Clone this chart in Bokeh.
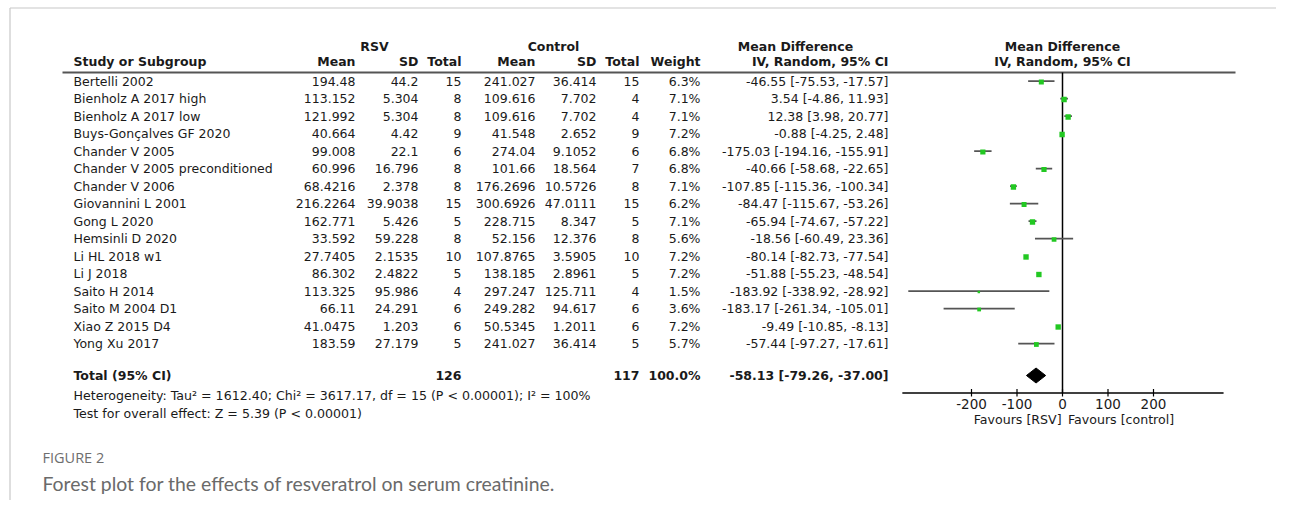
from bokeh.plotting import figure
from bokeh.models import Range1d, ColumnDataSource
from bokeh.core.properties import value
from bokeh.embed import file_html
from bokeh.resources import INLINE

# ---------------- data ----------------
studies = ["Bertelli 2002", "Bienholz A 2017 high", "Bienholz A 2017 low",
           "Buys-Gonçalves GF 2020", "Chander V 2005", "Chander V 2005 preconditioned",
           "Chander V 2006", "Giovannini L 2001", "Gong L 2020", "Hemsinli D 2020",
           "Li HL 2018 w1", "Li J 2018", "Saito H 2014", "Saito M 2004 D1",
           "Xiao Z 2015 D4", "Yong Xu 2017"]
rsv_mean = ["194.48", "113.152", "121.992", "40.664", "99.008", "60.996", "68.4216",
            "216.2264", "162.771", "33.592", "27.7405", "86.302", "113.325", "66.11",
            "41.0475", "183.59"]
rsv_sd = ["44.2", "5.304", "5.304", "4.42", "22.1", "16.796", "2.378", "39.9038",
          "5.426", "59.228", "2.1535", "2.4822", "95.986", "24.291", "1.203", "27.179"]
rsv_n = [15, 8, 8, 9, 6, 8, 8, 15, 5, 8, 10, 5, 4, 6, 6, 5]
ctl_mean = ["241.027", "109.616", "109.616", "41.548", "274.04", "101.66", "176.2696",
            "300.6926", "228.715", "52.156", "107.8765", "138.185", "297.247", "249.282",
            "50.5345", "241.027"]
ctl_sd = ["36.414", "7.702", "7.702", "2.652", "9.1052", "18.564", "10.5726", "47.0111",
          "8.347", "12.376", "3.5905", "2.8961", "125.711", "94.617", "1.2011", "36.414"]
ctl_n = [15, 4, 4, 9, 6, 7, 8, 15, 5, 8, 10, 5, 4, 6, 6, 5]
weight = [6.3, 7.1, 7.1, 7.2, 6.8, 6.8, 7.1, 6.2, 7.1, 5.6, 7.2, 7.2, 1.5, 3.6, 7.2, 5.7]
md = [-46.55, 3.54, 12.38, -0.88, -175.03, -40.66, -107.85, -84.47, -65.94, -18.56,
      -80.14, -51.88, -183.92, -183.17, -9.49, -57.44]
lo = [-75.53, -4.86, 3.98, -4.25, -194.16, -58.68, -115.36, -115.67, -74.67, -60.49,
      -82.73, -55.23, -338.92, -261.34, -10.85, -97.27]
hi = [-17.57, 11.93, 20.77, 2.48, -155.91, -22.65, -100.34, -53.26, -57.22, 23.36,
      -77.54, -48.54, -28.92, -105.01, -8.13, -17.61]
total_rsv_n = 126
total_ctl_n = 117
total_weight = "100.0%"
total_md, total_lo, total_hi = -58.13, -79.26, -37.00
ticks = [-200, -100, 0, 100, 200]
axis_span = [-352, 354]
heterogeneity = "Heterogeneity: Tau\u00b2 = 1612.40; Chi\u00b2 = 3617.17, df = 15 (P < 0.00001); I\u00b2 = 100%"
overall = "Test for overall effect: Z = 5.39 (P < 0.00001)"
fig_label = "FIGURE 2"
caption = "Forest plot for the effects of resveratrol on serum creatinine."

# ---------------- layout ----------------
W, H = 1276, 500
p = figure(width=W, height=H, x_range=Range1d(0, W), y_range=Range1d(H, 0),
           output_backend="svg", toolbar_location=None, min_border=0,
           x_axis_location=None, y_axis_location=None)
p.grid.visible = False
p.outline_line_color = None
p.background_fill_color = "white"

zero_px, px_per_unit = 1062.0, 0.455
p.extra_x_ranges = {"md": Range1d((0 - zero_px) / px_per_unit, (W - zero_px) / px_per_unit)}

FONT = value("DejaVu Sans")
FS = "12.5px"
TXT = "#1a1a1a"
row0, row_h = 80.7, 17.5
ys = [row0 + i * row_h for i in range(len(studies))]
y_total = 375.0
y_h1, y_h2 = 45.5, 60.5

# frame of the figure box
p.segment(x0=[9.5, 9.5], y0=[7.5, 7.5], x1=[9.5, W], y1=[H, 7.5],
          line_color="#c8c8c8", line_width=1.2)

def col(texts, x, y, align="right", bold=False, color=TXT, size=FS, font=FONT):
    src = ColumnDataSource(dict(x=[x] * len(texts), y=y, t=texts))
    p.text(x="x", y="y", text="t", source=src, text_align=align, text_baseline="middle",
           text_font=font, text_font_size=size, text_color=color,
           text_font_style="bold" if bold else "normal")

# headers
col(["RSV"], 374, [y_h1], "center", True)
col(["Control"], 553, [y_h1], "center", True)
col(["Mean Difference"], 795, [y_h1], "center", True)
col(["Mean Difference"], zero_px, [y_h1], "center", True)
col(["Study or Subgroup"], 73, [y_h2], "left", True)
x_cols = [355, 418, 461, 535, 596, 639, 700, 888]
for h, x in zip(["Mean", "SD", "Total", "Mean", "SD", "Total", "Weight", "IV, Random, 95% CI"], x_cols):
    col([h], x, [y_h2], "right", True)
col(["IV, Random, 95% CI"], zero_px, [y_h2], "center", True)

# header rule
p.line(x=[62, 1235], y=[72, 72], line_color="#555555", line_width=2)

# study rows
col(studies, 73, ys, "left")
col(rsv_mean, x_cols[0], ys)
col(rsv_sd, x_cols[1], ys)
col([str(v) for v in rsv_n], x_cols[2], ys)
col(ctl_mean, x_cols[3], ys)
col(ctl_sd, x_cols[4], ys)
col([str(v) for v in ctl_n], x_cols[5], ys)
col([f"{w:.1f}%" for w in weight], x_cols[6], ys)
col([f"{m:.2f} [{a:.2f}, {b:.2f}]" for m, a, b in zip(md, lo, hi)], x_cols[7], ys)

# total row
col(["Total (95% CI)"], 73, [y_total], "left", True)
col([str(total_rsv_n)], x_cols[2], [y_total], "right", True)
col([str(total_ctl_n)], x_cols[5], [y_total], "right", True)
col([total_weight], x_cols[6], [y_total], "right", True)
col([f"{total_md:.2f} [{total_lo:.2f}, {total_hi:.2f}]"], x_cols[7], [y_total], "right", True)

col([heterogeneity], 73, [395], "left", size="12.6px")
col([overall], 73, [412.5], "left", size="12.6px")

# forest: zero line
p.segment(x0=[0], y0=[72], x1=[0], y1=[392.5], x_range_name="md",
          line_color="black", line_width=1.5)
# CIs
p.segment(x0=lo, y0=ys, x1=hi, y1=ys, x_range_name="md",
          line_color="#555555", line_width=1.8)
sq = [2.0 * (w ** 0.5) for w in weight]
p.scatter(x=md, y=[y + 0.8 for y in ys], size=sq, marker="square", x_range_name="md",
          fill_color="#22c822", line_color=None)
# diamond
p.patch(x=[total_lo, total_md, total_hi, total_md], y=[y_total, y_total - 7.5, y_total, y_total + 7.5],
        x_range_name="md", fill_color="black", line_color="black")
# axis
p.line(x=axis_span, y=[392.5, 392.5], x_range_name="md", line_color="black", line_width=1.3)
p.segment(x0=ticks, y0=[388.5] * len(ticks), x1=ticks, y1=[396] * len(ticks), x_range_name="md",
          line_color="black", line_width=1.2)
tsrc = ColumnDataSource(dict(x=ticks, y=[403.5] * len(ticks), t=[str(t) for t in ticks]))
p.text(x="x", y="y", text="t", source=tsrc, x_range_name="md", text_align="center",
       text_baseline="middle", text_font=FONT, text_font_size="13.5px", text_color=TXT)
p.text(x=[-2], y=[418.5], text=["Favours [RSV]"], x_range_name="md", text_align="right",
       text_baseline="middle", text_font=FONT, text_font_size="12.6px", text_color=TXT)
p.text(x=[12], y=[418.5], text=["Favours [control]"], x_range_name="md", text_align="left",
       text_baseline="middle", text_font=FONT, text_font_size="12.6px", text_color=TXT)

# caption
col([fig_label], 42, [457], "left", size="14.5px", color="#6e6e6e", font=value("Open Sans"))
col([caption], 42, [483], "left", size="19.4px", color="#6a6a6a", font=value("Lato"))

open("out.html", "w").write(file_html(p, INLINE))
